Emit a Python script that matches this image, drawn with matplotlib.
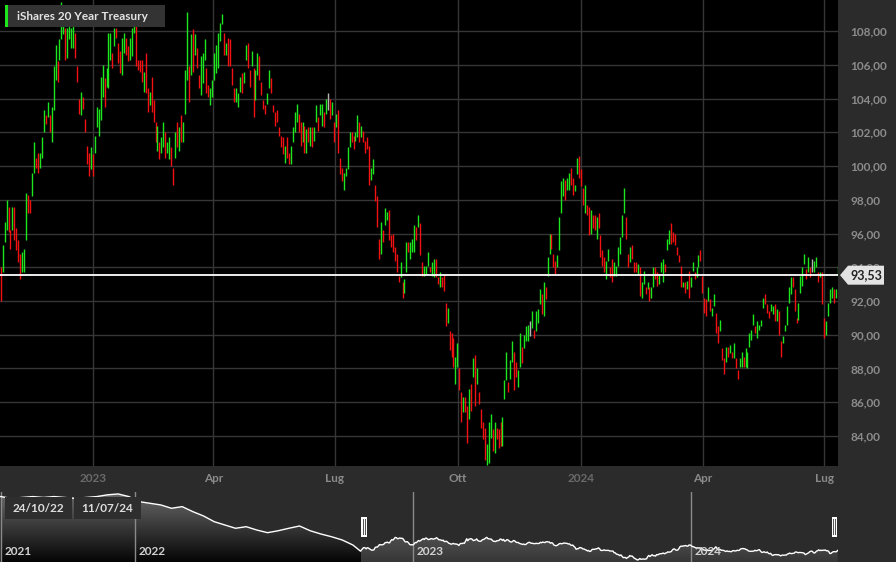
import numpy as np
import pandas as pd
import matplotlib
matplotlib.use('Agg')
import matplotlib.pyplot as plt
import matplotlib.dates as mdates
import matplotlib.transforms as mtransforms
from matplotlib.patches import Rectangle, Polygon
from matplotlib.colors import LinearSegmentedColormap

plt.rcParams['font.family'] = ['Lato', 'DejaVu Sans']

# ---------------- data ----------------
title = 'iShares 20 Year Treasury'
start_date = '2022-10-24'
end_date = '2024-07-11'
last_price = 93.53

highs = [
    94.0, 95.3, 96.7, 98.0, 97.6, 96.2, 97.6, 97.6, 96.3, 95.6,
    94.8, 94.9, 95.1, 98.4, 98.3, 98.0, 99.6, 101.4, 100.5, 100.8,
    100.8, 101.7, 103.3, 103.0, 103.8, 103.0, 103.5, 105.9, 107.2, 106.2,
    107.5, 109.7, 108.9, 108.2, 108.2, 108.5, 108.2, 108.4, 107.9, 105.9,
    104.0, 104.4, 104.1, 102.8, 101.2, 100.8, 101.1, 100.7, 101.8, 103.5,
    103.4, 105.3, 106.0, 105.2, 105.8, 107.9, 107.9, 106.7, 108.2, 108.2,
    107.3, 106.8, 107.6, 107.9, 107.6, 107.1, 107.6, 108.2, 108.8, 108.8,
    106.3, 106.3, 106.3, 105.6, 106.7, 104.6, 104.4, 105.3, 103.9, 102.6,
    102.4, 101.4, 101.7, 102.6, 102.0, 101.4, 101.7, 101.1, 99.9, 102.0,
    102.6, 102.3, 103.0, 102.6, 105.7, 109.1, 105.9, 107.8, 108.1, 107.8,
    107.0, 105.4, 106.5, 106.7, 107.5, 105.8, 104.8, 104.6, 105.1, 106.7,
    107.2, 107.9, 108.5, 109.0, 107.9, 107.3, 107.6, 107.5, 105.8, 104.6,
    104.6, 104.3, 105.3, 105.5, 105.6, 107.2, 107.3, 105.7, 106.8, 105.8,
    105.7, 106.7, 106.5, 105.0, 103.9, 103.6, 104.3, 105.7, 105.2, 103.6,
    103.2, 103.3, 102.3, 101.8, 101.7, 101.2, 101.7, 100.8, 101.2, 102.3,
    103.2, 103.7, 103.1, 102.6, 102.6, 102.4, 102.2, 102.3, 102.3, 102.3,
    102.3, 103.6, 102.9, 103.7, 103.7, 103.2, 104.0, 104.3, 104.0, 103.8,
    102.6, 103.1, 103.3, 100.5, 99.9, 99.6, 99.9, 101.1, 102.0, 102.0,
    101.8, 102.0, 103.0, 102.6, 102.4, 102.1, 101.5, 101.7, 101.2, 99.9,
    100.4, 98.9, 98.2, 95.7, 96.7, 96.2, 97.5, 97.3, 97.4, 95.9,
    96.0, 95.2, 94.8, 93.5, 94.3, 93.1, 93.3, 95.5, 95.5, 95.5,
    95.7, 96.5, 96.4, 97.1, 96.6, 94.3, 94.1, 94.1, 94.9, 94.0,
    94.3, 94.5, 94.5, 93.4, 93.7, 93.4, 93.6, 91.9, 91.6, 90.2,
    90.1, 89.8, 88.7, 89.5, 88.0, 86.6, 86.3, 86.3, 85.8, 86.8,
    87.1, 88.6, 88.8, 88.0, 86.6, 85.6, 84.8, 84.5, 83.5, 84.8,
    85.3, 84.4, 84.8, 84.5, 84.4, 84.8, 85.1, 87.3, 89.0, 87.2,
    88.5, 89.6, 89.0, 88.4, 87.9, 90.1, 89.3, 90.0, 90.5, 90.6,
    90.8, 91.4, 90.3, 91.4, 91.5, 92.7, 92.4, 93.1, 92.8, 94.6,
    96.0, 96.0, 94.8, 94.4, 94.7, 97.0, 99.1, 99.3, 99.2, 99.3,
    99.6, 99.9, 99.3, 98.9, 100.5, 100.6, 99.8, 98.7, 98.9, 97.7,
    97.6, 97.4, 97.1, 97.1, 97.0, 97.2, 95.9, 95.0, 94.6, 94.4,
    95.1, 94.0, 94.5, 94.3, 94.1, 95.2, 95.8, 97.1, 98.7, 97.0,
    94.8, 95.2, 95.3, 94.3, 94.3, 94.2, 94.0, 93.1, 93.8, 92.8,
    93.1, 92.8, 92.8, 94.0, 94.0, 93.7, 93.6, 94.3, 94.5, 94.2,
    95.7, 96.2, 96.6, 96.1, 96.0, 95.2, 94.7, 94.1, 93.1, 93.1,
    93.2, 93.8, 93.4, 94.3, 93.7, 94.0, 94.7, 95.0, 93.5, 92.2,
    92.1, 92.8, 92.1, 91.6, 92.4, 91.3, 90.5, 90.9, 89.2, 88.6,
    89.3, 89.3, 89.4, 89.0, 89.5, 88.6, 87.9, 88.6, 89.0, 88.7,
    89.2, 89.0, 90.1, 90.3, 91.2, 90.5, 90.8, 90.6, 90.9, 92.2,
    92.4, 91.8, 91.4, 91.8, 91.7, 91.8, 91.5, 91.4, 89.6, 89.9,
    90.6, 91.7, 92.8, 93.4, 93.4, 92.7, 91.0, 91.9, 93.5, 94.0,
    94.8, 93.9, 94.6, 94.0, 94.5, 94.4, 94.6, 93.7, 93.7, 93.7,
    91.0, 90.8, 91.9, 92.7, 92.8, 92.7, 92.7, 94.1,
]

lows = [
    92.0, 93.7, 95.5, 96.2, 96.1, 95.1, 96.2, 95.6, 95.0, 94.3,
    93.3, 93.7, 93.7, 95.6, 97.2, 97.2, 98.2, 99.6, 99.9, 99.6,
    99.9, 100.5, 102.0, 102.5, 102.9, 102.0, 101.4, 103.3, 105.1, 105.0,
    106.3, 107.5, 107.8, 106.3, 106.4, 107.5, 107.0, 107.0, 106.4, 105.0,
    103.1, 103.0, 103.4, 102.0, 100.1, 99.4, 99.8, 99.4, 100.8, 102.3,
    101.8, 102.7, 104.1, 103.5, 104.7, 104.6, 106.3, 105.8, 107.1, 107.6,
    106.1, 105.5, 105.4, 106.7, 106.6, 106.2, 106.3, 106.5, 107.9, 105.9,
    105.7, 105.6, 105.0, 104.4, 104.3, 103.2, 103.6, 103.2, 102.6, 101.4,
    100.9, 100.4, 100.8, 101.1, 100.5, 100.8, 100.4, 100.0, 98.9, 100.5,
    101.1, 100.9, 101.4, 101.4, 103.1, 105.1, 103.8, 105.4, 105.6, 106.6,
    105.8, 104.6, 104.2, 104.9, 106.3, 104.3, 104.1, 103.6, 104.1, 105.1,
    105.5, 105.8, 107.4, 108.4, 106.6, 106.6, 105.9, 105.9, 104.8, 103.8,
    103.8, 103.5, 104.4, 104.3, 104.9, 106.3, 105.8, 104.7, 105.9, 102.9,
    103.9, 105.4, 105.1, 104.2, 103.4, 103.1, 103.7, 104.6, 104.3, 103.2,
    102.4, 102.6, 101.8, 101.1, 100.7, 100.2, 100.5, 100.1, 100.1, 101.4,
    102.0, 102.6, 102.0, 101.2, 101.4, 100.8, 100.8, 101.4, 101.2, 101.1,
    101.5, 102.6, 102.1, 103.0, 102.4, 102.3, 103.1, 103.3, 102.8, 103.0,
    101.4, 102.3, 100.8, 99.5, 99.1, 98.6, 99.4, 99.8, 101.1, 101.4,
    101.0, 101.5, 101.7, 101.4, 101.7, 101.4, 100.8, 101.0, 98.9, 99.2,
    99.5, 97.9, 96.4, 94.5, 94.8, 95.5, 96.5, 96.8, 95.6, 95.2,
    94.9, 94.4, 93.7, 93.1, 93.4, 92.2, 92.5, 93.7, 94.9, 94.5,
    94.9, 94.9, 95.6, 96.4, 94.7, 93.5, 93.5, 93.6, 94.1, 93.7,
    93.5, 93.4, 93.4, 93.0, 92.8, 92.8, 92.6, 90.5, 90.7, 89.1,
    88.7, 88.1, 87.1, 88.1, 86.7, 84.8, 85.4, 85.4, 83.6, 85.0,
    85.5, 87.5, 85.8, 87.1, 85.9, 84.5, 83.8, 82.6, 82.3, 82.4,
    83.9, 83.1, 83.0, 83.8, 83.3, 83.4, 83.4, 86.2, 87.3, 86.6,
    87.4, 88.4, 86.7, 87.5, 86.9, 88.1, 88.3, 89.2, 89.6, 89.6,
    89.9, 90.4, 89.8, 90.2, 90.7, 91.8, 91.2, 91.1, 92.1, 93.5,
    94.8, 95.1, 94.0, 93.6, 94.0, 95.0, 97.2, 98.2, 98.0, 98.6,
    98.6, 98.9, 98.3, 98.5, 99.5, 99.3, 98.8, 97.7, 97.2, 97.1,
    95.9, 96.0, 96.3, 96.2, 95.7, 96.3, 94.6, 94.1, 93.7, 93.3,
    94.4, 93.4, 93.1, 93.5, 93.5, 94.1, 94.8, 95.8, 97.2, 95.7,
    94.0, 94.3, 94.5, 93.7, 93.7, 93.6, 92.3, 92.2, 93.0, 92.4,
    92.7, 92.0, 92.2, 92.8, 93.3, 92.9, 93.0, 93.7, 93.1, 93.7,
    95.0, 95.4, 95.4, 95.5, 95.3, 94.7, 94.3, 92.8, 92.8, 92.5,
    92.7, 92.2, 92.8, 93.8, 93.3, 93.4, 94.0, 94.4, 92.5, 91.3,
    91.1, 92.0, 91.4, 91.1, 91.7, 90.1, 89.5, 90.2, 88.5, 87.7,
    88.4, 88.7, 88.9, 88.6, 88.6, 88.0, 87.4, 88.1, 88.1, 88.1,
    88.1, 88.0, 89.3, 89.7, 90.6, 90.1, 89.8, 90.3, 90.5, 91.6,
    91.8, 91.3, 91.0, 91.4, 91.2, 90.8, 90.8, 90.0, 88.7, 89.5,
    90.2, 90.6, 91.9, 92.4, 92.8, 91.4, 90.7, 90.9, 92.5, 92.9,
    94.2, 93.3, 93.7, 93.4, 93.7, 93.7, 94.0, 93.1, 93.4, 91.8,
    89.8, 90.0, 91.1, 91.9, 92.2, 91.9, 92.2, 93.5,
]

# g = close above open, r = close below open, n = unchanged
dirs = ("rgggrrgrrr rgggrrggrr gggrgrgggr gggrggggrr rgrrrrgrgg "
        "gggrgggrgr rrggrrgggr rrrgrrgrrr grggrggrrg rgrgggrgrg "
        "rrgggrrggg ggggrgrrrr gggrggrrgr ggrrrrggrr rrrrrgrrgg "
        "ggrrgrgrgr ggrggrgnrg rgrrrggggr rggrgrrrrg grrrgrggrr "
        "rrrrgrggrg ggrgrrgggr ggrrgrrrgr rrggrrgrrg rgrgrrrrgg "
        "grgrrrgggr ggrrggrggg ngrgggrgrg grrrggggrg grrggrrrgr "
        "rgrrgrrrrg grrggggggr rgrrrgrggr grggrrgggr ggrrrrrrgr "
        "grggrggrrr rgrggrrgrr grgrgrrggr gggggrgggg rrrggrgrrg "
        "ggggrrrggg grgrnggrgr rggggrgg").replace(' ', '')

# navigator history before the selected window (two-weekly closes)
nav_pre_start = '2021-07-09'
nav_pre = [155, 153, 154, 155, 154, 155, 154, 153, 154, 155, 157, 158, 155,
           149.2, 147.3, 145.5, 141.7, 143.6, 137.9, 133.0, 126.5, 122.7,
           119.0, 120.8, 117.0, 114.0, 116.2, 119.0, 121.6, 116.2, 112.5,
           109.4, 105.7, 100.0]

x_tick_dates = ['2023-01-01', '2023-04-01', '2023-07-01', '2023-10-01',
                '2024-01-01', '2024-04-01', '2024-07-01']
x_tick_labels = ['2023', 'Apr', 'Lug', 'Ott', '2024', 'Apr', 'Lug']
y_ticks = list(range(84, 109, 2))
nav_years = ['2021', '2022', '2023', '2024']
range_labels = ['24/10/22', '11/07/24']

assert len(highs) == len(lows) == len(dirs), (len(highs), len(lows), len(dirs))

# ---------------- figure ----------------
W, H = 896.0, 562.0
def fx(x):
    return x / W
def fy(y):
    return 1 - y / H

fig = plt.figure(figsize=(8.96, 5.62), dpi=100, facecolor='#2b2b2b')

ax = fig.add_axes([0, fy(466), fx(838), 466 / H])
ax.set_facecolor('black')
for s in ax.spines.values():
    s.set_visible(False)

dates = pd.date_range(start_date, end_date, periods=len(highs))
cmap_dir = {'g': '#1ee61e', 'r': '#f21212', 'n': '#b4b4b4'}
cols = [cmap_dir[c] for c in dirs]
ax.vlines(dates, lows, highs, colors=cols, linewidth=1.0, zorder=3)

ax.set_ylim(82.22, 109.84)
ax.set_xlim(dates[0] - pd.Timedelta(hours=12), dates[-1] + pd.Timedelta(hours=6))

ax.set_xticks(pd.to_datetime(x_tick_dates))
ax.set_xticklabels(x_tick_labels)
ax.tick_params(axis='x', length=0, pad=5, labelsize=8.5)
for lab in ax.get_xticklabels():
    lab.set_fontweight('bold')
    lab.set_color('#6a6a6a' if lab.get_text().isdigit() else '#8a8a8a')

ax.yaxis.tick_right()
ax.set_yticks(y_ticks)
ax.set_yticklabels([f"{v:.2f}".replace('.', ',') for v in y_ticks])
ax.tick_params(axis='y', length=0, pad=9, labelsize=8.5, labelcolor='#8c8c8c')
for lab in ax.get_yticklabels():
    lab.set_fontweight('bold')

ax.grid(True, color='#363636', linewidth=1.0, zorder=0)
ax.set_axisbelow(True)

ax.axhline(last_price, color='white', linewidth=1.3, zorder=4)

# last price tag (covers the tick label behind it, as in the original)
y_lp = ax.transData.transform((0, last_price))[1]
y_lp_px = H - y_lp
tag = Polygon([(fx(840), fy(y_lp_px)), (fx(848), fy(y_lp_px - 9.5)),
               (fx(884), fy(y_lp_px - 9.5)), (fx(884), fy(y_lp_px + 9.5)),
               (fx(848), fy(y_lp_px + 9.5))], closed=True,
              transform=fig.transFigure, fc='#e3e3e3', ec='none', zorder=20)
fig.add_artist(tag)
fig.text(fx(866), fy(y_lp_px), f"{last_price:.2f}".replace('.', ','),
         ha='center', va='center', fontsize=9, fontweight='bold', color='#222222',
         zorder=21)

# title box
fig.add_artist(Rectangle((fx(5), fy(27)), 160 / W, 22 / H, transform=fig.transFigure,
                         fc='#333333', ec='none'))
fig.add_artist(Rectangle((fx(5), fy(27)), 3 / W, 22 / H, transform=fig.transFigure,
                         fc='#1ee61e', ec='none'))
fig.text(fx(17), fy(16.5), title, ha='left', va='center', fontsize=8.5,
         fontweight='bold', color='#e4e4e4')

# ---------------- navigator ----------------
nav = fig.add_axes([0, 0, fx(838), 70 / H])
nav.set_facecolor('black')
nav.set_axis_off()
nav_lo, nav_hi = 80.7, 160.2

pre_dates = pd.date_range(nav_pre_start, periods=len(nav_pre), freq='14D')
mids = [(h + l) / 2 for h, l in zip(highs, lows)]
nd = np.concatenate([mdates.date2num(pre_dates), mdates.date2num(dates)])
nv = np.concatenate([np.array(nav_pre, float), np.array(mids)])

x0 = mdates.date2num(pd.Timestamp('2021-07-08'))
x1 = mdates.date2num(pd.Timestamp(end_date)) + 0.5
xs = mdates.date2num(dates[0])

verts = np.vstack([np.column_stack([nd, nv]), [[nd[-1], nav_lo], [nd[0], nav_lo]]])
clip = Polygon(verts, closed=True, transform=nav.transData, fc='none', ec='none')
nav.add_patch(clip)
grad = np.linspace(1, 0, 256).reshape(-1, 1)
cm_un = LinearSegmentedColormap.from_list('un', ['#050505', '#6a6a6a'])
cm_sel = LinearSegmentedColormap.from_list('sel', ['#363636', '#7a7a7a'])
im1 = nav.imshow(grad, aspect='auto', cmap=cm_un, vmin=0, vmax=1,
                 extent=[x0, xs, nav_lo, nav_hi], origin='upper', zorder=1)
im1.set_clip_path(clip)
im2 = nav.imshow(grad, aspect='auto', cmap=cm_sel, vmin=0, vmax=1,
                 extent=[xs, x1, nav_lo, nav_hi], origin='upper', zorder=1)
im2.set_clip_path(clip)
nav.plot(nd, nv, color='white', linewidth=1.0, zorder=3)

for i, yr in enumerate(nav_years):
    xd = mdates.date2num(pd.Timestamp(f'{yr}-01-01')) if i > 0 else x0 + 1
    nav.axvline(xd, color='#8a8a8a', linewidth=1.0, zorder=2)
    nav.annotate(yr, xy=(xd, 0.143), xycoords=('data', 'axes fraction'),
                 xytext=(2.5, 0), textcoords='offset points', ha='left', va='center',
                 fontsize=8.5, fontweight='bold', color='#d2d2d2', zorder=4)

nav.set_xlim(x0, x1)
nav.set_ylim(nav_lo, nav_hi)

# handles
btrans = mtransforms.blended_transform_factory(nav.transData, nav.transAxes)
for hx in [xs + 1.0, x1 - 8.5]:
    nav.add_patch(Rectangle((hx, 0.357), 7.5, 0.286, transform=btrans,
                            fc='white', ec='none', zorder=5))
    for k in (2.5, 5.0):
        nav.add_patch(Rectangle((hx + k, 0.38), 1.0, 0.24, transform=btrans,
                                fc='#555555', ec='none', zorder=6))

# range date boxes
for i, lab in enumerate(range_labels):
    left = 5 + i * 69
    fig.add_artist(Rectangle((fx(left), fy(519)), 67 / W, 22 / H,
                             transform=fig.transFigure, fc='#2e2e2e', ec='none', zorder=10))
    fig.text(fx(left + 33.5), fy(508.5), lab, ha='center', va='center', fontsize=8.5,
             fontweight='bold', color='#dddddd', zorder=11)

fig.savefig('out.png', dpi=100, facecolor=fig.get_facecolor())
